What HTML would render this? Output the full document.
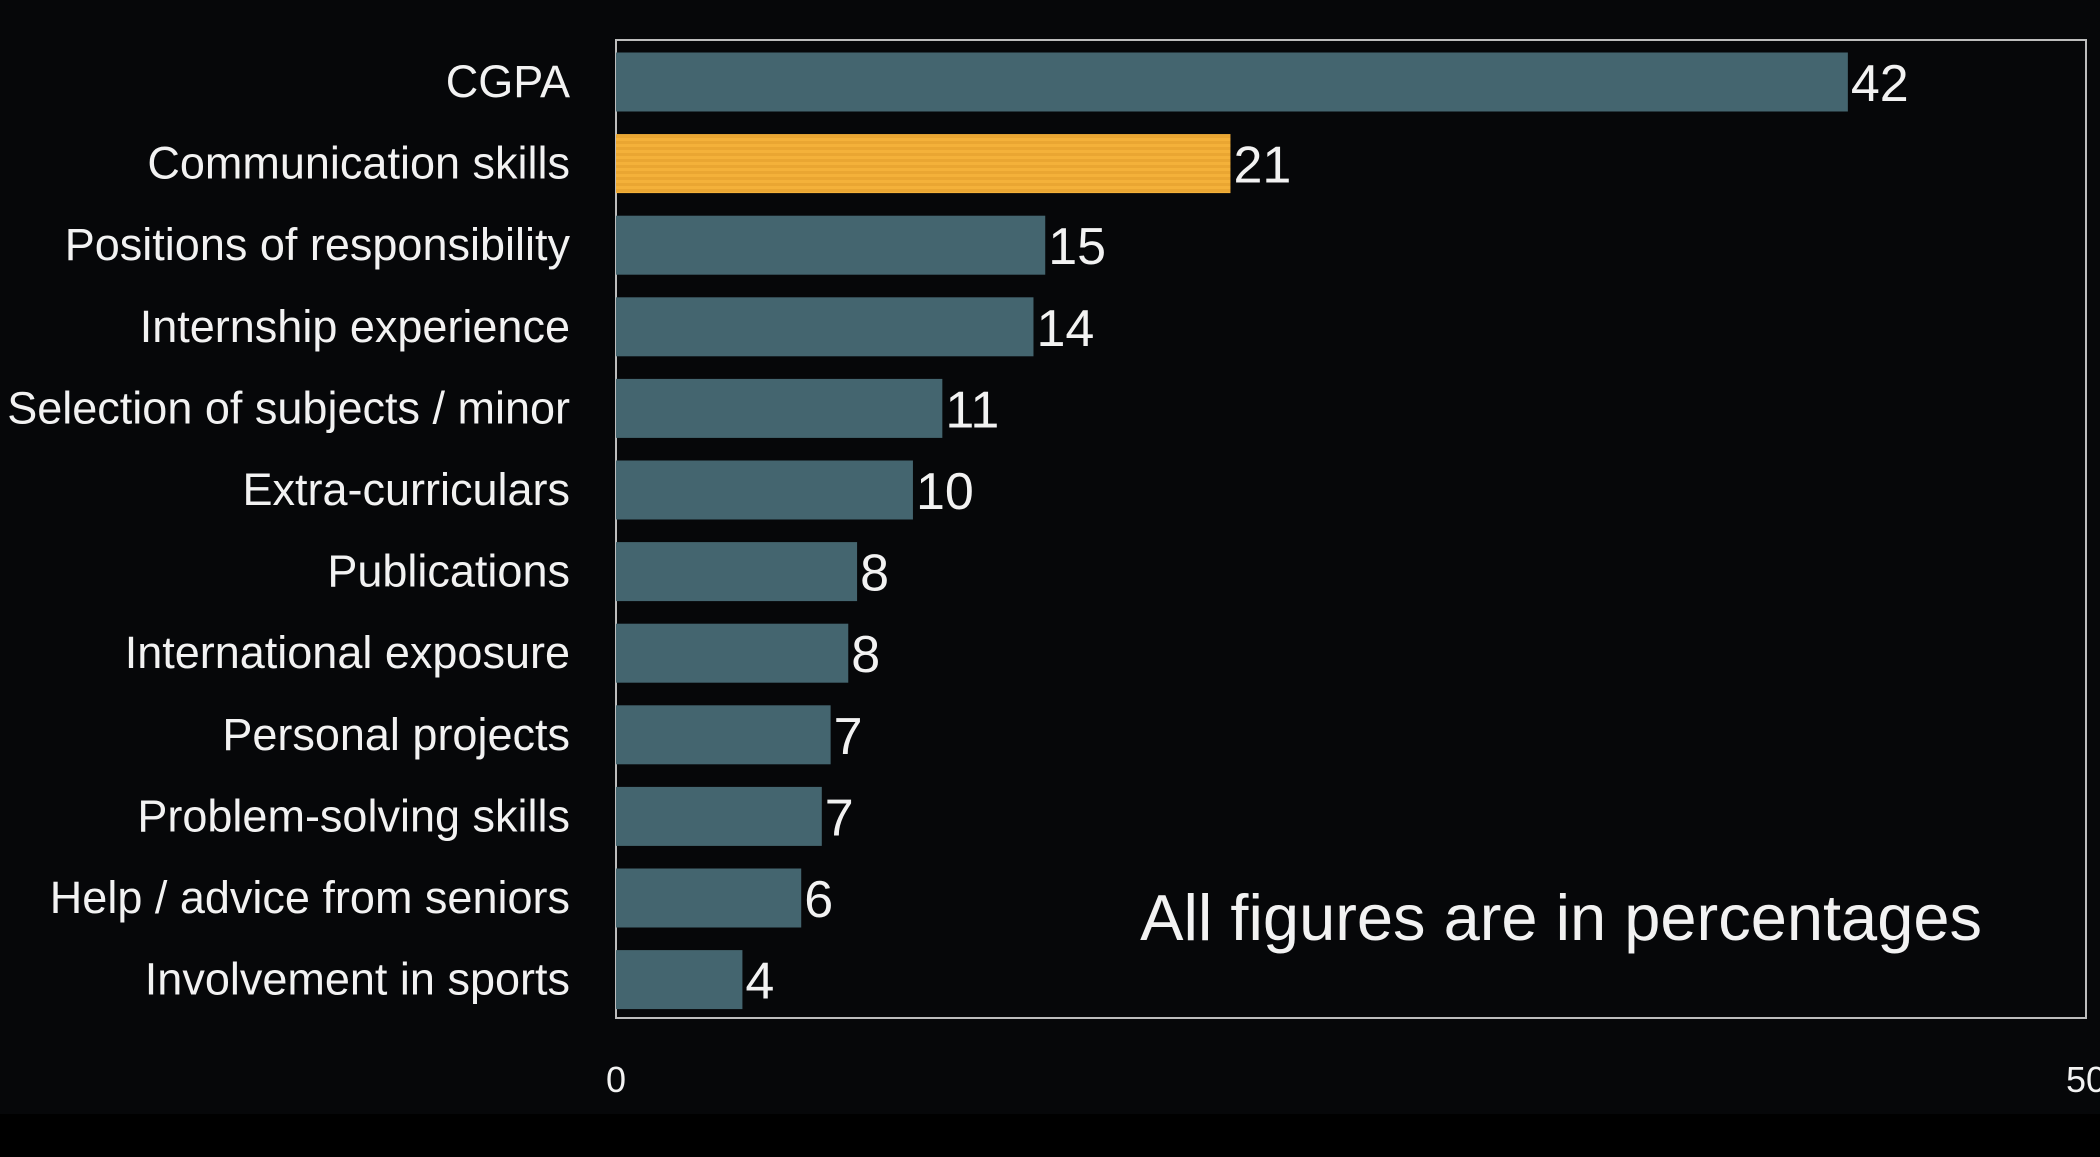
<!DOCTYPE html>
<html><head><meta charset="utf-8"><style>
html,body{margin:0;padding:0;background:#060709;}
svg{display:block;}
text{font-family:"Liberation Sans",sans-serif;fill:#f2f2f2;}
</style></head><body>
<svg id="chart" width="2100" height="1157" viewBox="0 0 2100 1157" xmlns="http://www.w3.org/2000/svg">
<defs>
<pattern id="stripes" width="8" height="6" patternUnits="userSpaceOnUse">
<rect width="8" height="6" fill="#f4b13a"/><rect y="3" width="8" height="3" fill="#eaa632"/>
</pattern>
</defs>
<rect x="0" y="0" width="2100" height="1114" fill="#060709"/>
<rect x="0" y="1114" width="2100" height="43" fill="#000000"/>
<rect x="616" y="40" width="1470" height="978" fill="none" stroke="#bdbdbd" stroke-width="2"/>
<g id="bars"></g>
<text x="1982" y="940" font-size="65" text-anchor="end">All figures are in percentages</text>
</svg>
<script>
const categories = ["CGPA","Communication skills","Positions of responsibility","Internship experience","Selection of subjects / minor","Extra-curriculars","Publications","International exposure","Personal projects","Problem-solving skills","Help / advice from seniors","Involvement in sports"];
const values = [41.9,20.9,14.6,14.2,11.1,10.1,8.2,7.9,7.3,7.0,6.3,4.3];
const highlight = [false,true,false,false,false,false,false,false,false,false,false,false];
const xTicks = [0,50];

const X0 = 616, X1 = 2086, XMAX = 50;
const Y0 = 82, STEP = 81.6, BAR_H = 59;
function xScale(v){ return X0 + (v / XMAX) * (X1 - X0); }
function yCenter(i){ return Y0 + i * STEP; }

const svg = document.getElementById('chart');
const g = document.getElementById('bars');
const NS = "http://www.w3.org/2000/svg";
categories.forEach((c, i) => {
  const yc = yCenter(i);
  const r = document.createElementNS(NS, 'rect');
  r.setAttribute('x', xScale(0));
  r.setAttribute('y', yc - BAR_H / 2);
  r.setAttribute('width', xScale(values[i]) - xScale(0));
  r.setAttribute('height', BAR_H);
  r.setAttribute('fill', highlight[i] ? 'url(#stripes)' : '#44656f');
  
  
  g.appendChild(r);

  const lab = document.createElementNS(NS, 'text');
  lab.setAttribute('x', 570);
  lab.setAttribute('y', yc + 15);
  lab.setAttribute('font-size', '45');
  lab.setAttribute('text-anchor', 'end');
  lab.textContent = c;
  
  
  g.appendChild(lab);

  const vl = document.createElementNS(NS, 'text');
  vl.setAttribute('x', xScale(values[i]) + 3);
  vl.setAttribute('y', yc + 19);
  vl.setAttribute('font-size', '52');
  vl.textContent = Math.round(values[i]);
  
  
  g.appendChild(vl);
});
xTicks.forEach(t => {
  const tl = document.createElementNS(NS, 'text');
  tl.setAttribute('x', xScale(t));
  tl.setAttribute('y', 1092);
  tl.setAttribute('font-size', '36');
  tl.setAttribute('text-anchor', 'middle');
  tl.textContent = t;
  
  
  svg.appendChild(tl);
});
</script>
</body></html>
